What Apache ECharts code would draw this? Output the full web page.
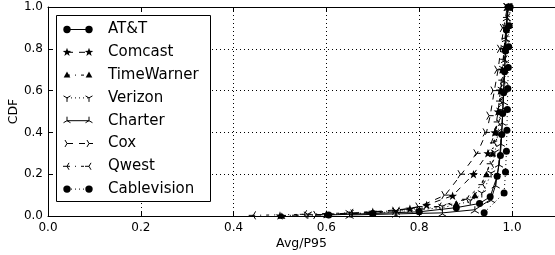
<!DOCTYPE html>
<html>
<head>
<meta charset="utf-8">
<script src="https://cdn.jsdelivr.net/npm/echarts@6/dist/echarts.min.js"></script>
<style>
html, body { margin: 0; padding: 0; background: #fff; }
#main { width: 555px; height: 255px; }
</style>
</head>
<body>
<div id="main"></div>
<script>
// series names (legend order)
var names = ["AT&T", "Comcast", "TimeWarner", "Verizon", "Charter", "Cox", "Qwest", "Cablevision"];

// Avg/P95 values (x) and CDF values (y)
var attX = [0.605, 0.70, 0.80, 0.88, 0.93, 0.953, 0.968, 0.975, 0.978, 0.980, 0.982, 0.984, 0.986, 0.988, 0.992];
var attY = [0.005, 0.012, 0.02, 0.04, 0.06, 0.092, 0.19, 0.29, 0.39, 0.49, 0.59, 0.69, 0.79, 0.89, 1.0];

var comcastX = [0.50, 0.60, 0.70, 0.78, 0.816, 0.872, 0.917, 0.948, 0.963, 0.970, 0.975, 0.979, 0.983, 0.987, 0.992];
var comcastY = [0.002, 0.008, 0.02, 0.035, 0.053, 0.097, 0.20, 0.30, 0.40, 0.50, 0.60, 0.70, 0.80, 0.90, 1.0];

var twX = [0.504, 0.60, 0.70, 0.80, 0.88, 0.92, 0.945, 0.958, 0.965, 0.972, 0.977, 0.980, 0.984, 0.988, 0.993];
var twY = [0.002, 0.008, 0.015, 0.03, 0.06, 0.10, 0.20, 0.30, 0.40, 0.50, 0.60, 0.70, 0.80, 0.90, 1.0];

var verizonX = [0.56, 0.65, 0.75, 0.85, 0.91, 0.935, 0.955, 0.963, 0.970, 0.975, 0.978, 0.981, 0.984, 0.987, 0.990];
var verizonY = [0.003, 0.01, 0.02, 0.04, 0.07, 0.105, 0.20, 0.30, 0.40, 0.50, 0.60, 0.70, 0.80, 0.90, 1.0];

var charterX = [0.65, 0.75, 0.85, 0.92, 0.955, 0.965, 0.972, 0.976, 0.979, 0.981, 0.983, 0.985, 0.987, 0.989, 0.992];
var charterY = [0.005, 0.01, 0.015, 0.03, 0.08, 0.15, 0.25, 0.35, 0.45, 0.55, 0.65, 0.75, 0.85, 0.95, 1.0];

var coxX = [0.58, 0.66, 0.75, 0.80, 0.856, 0.891, 0.925, 0.945, 0.953, 0.962, 0.970, 0.976, 0.982, 0.990];
var coxY = [0.005, 0.012, 0.025, 0.045, 0.10, 0.20, 0.30, 0.40, 0.48, 0.60, 0.70, 0.80, 0.90, 1.0];

var qwestX = [0.44, 0.55, 0.65, 0.75, 0.84, 0.90, 0.935, 0.953, 0.960, 0.968, 0.973, 0.978, 0.982, 0.985, 0.988, 0.993];
var qwestY = [0.003, 0.008, 0.015, 0.025, 0.045, 0.08, 0.15, 0.25, 0.35, 0.45, 0.55, 0.65, 0.75, 0.85, 0.95, 1.0];

var cableX = [0.94, 0.983, 0.986, 0.988, 0.989, 0.990, 0.991, 0.992, 0.993, 0.994, 0.996];
var cableY = [0.016, 0.11, 0.21, 0.31, 0.41, 0.51, 0.61, 0.71, 0.81, 0.91, 1.0];

var xTicks = [0.0, 0.2, 0.4, 0.6, 0.8, 1.0];
var yTicks = [0.0, 0.2, 0.4, 0.6, 0.8, 1.0];

// marker shapes (matplotlib style), coords in -1..1, y down
var starPts = [];
for (var k = 0; k < 10; k++) {
	var a = (-90 + k * 36) * Math.PI / 180, r = k % 2 ? 0.4 : 1;
	starPts.push([r * Math.cos(a), r * Math.sin(a)]);
}
var M_STAR = { poly: starPts };
var M_TRI = { poly: [[0, -1], [0.95, 0.7], [-0.95, 0.7]] };
var M_TDOWN = { arms: [[0, 1], [-0.866, -0.5], [0.866, -0.5]] };
var M_TUP = { arms: [[0, -1], [-0.866, 0.5], [0.866, 0.5]] };
var M_TRIGHT = { arms: [[1, 0], [-0.5, -0.866], [-0.5, 0.866]] };
var M_TLEFT = { arms: [[-1, 0], [0.5, -0.866], [0.5, 0.866]] };

function toPath(m) {
	if (m === "circle") return "circle";
	var f = function (p) { return (10 + 10 * p[0]).toFixed(2) + " " + (10 + 10 * p[1]).toFixed(2); };
	if (m.poly) {
		return "path://M" + m.poly.map(f).join(" L") + " Z";
	}
	return "path://" + m.arms.map(function (p) { return "M10 10 L" + f(p); }).join(" ");
}

var DASH = [6, 6], DASHDOT = [3, 5, 1, 5], DOT = [1, 3];

var styles = [
	{ x: attX, y: attY, mk: "circle", size: 7, dash: "solid" },
	{ x: comcastX, y: comcastY, mk: M_STAR, size: 9, dash: DASH },
	{ x: twX, y: twY, mk: M_TRI, size: 7, dash: DASHDOT },
	{ x: verizonX, y: verizonY, mk: M_TDOWN, size: 8, dash: DOT },
	{ x: charterX, y: charterY, mk: M_TUP, size: 8, dash: "solid" },
	{ x: coxX, y: coxY, mk: M_TRIGHT, size: 8, dash: DASH },
	{ x: qwestX, y: qwestY, mk: M_TLEFT, size: 8, dash: DASHDOT },
	{ x: cableX, y: cableY, mk: "circle", size: 7, dash: DOT }
];

var FONT = "DejaVu Sans";

var series = styles.map(function (s, i) {
	var isArms = s.mk !== "circle" && s.mk.arms;
	return {
		name: names[i],
		type: "line",
		data: s.x.map(function (v, k) { return [v, s.y[k]]; }),
		symbol: toPath(s.mk),
		symbolSize: s.size,
		symbolKeepAspect: true,
		showAllSymbol: true,
		lineStyle: { color: "#000", width: 1, type: s.dash },
		itemStyle: { color: "#000", borderColor: "#000", borderWidth: isArms ? 1 : 0 },
		emphasis: { disabled: true },
		z: 2
	};
});

// legend drawn like matplotlib: marker, line, marker, label
var legendEls = [{
	type: "rect",
	shape: { x: 56.5, y: 15.5, width: 154, height: 186 },
	style: { fill: "#fff", stroke: "#000", lineWidth: 1 },
	z: 10
}];
styles.forEach(function (s, i) {
	var cy = 29.5 + i * 22.8;
	var x1 = 67, x2 = 89;
	legendEls.push({
		type: "line",
		shape: { x1: x1, y1: cy, x2: x2, y2: cy },
		style: { stroke: "#000", lineWidth: 1, lineDash: s.dash === "solid" ? null : s.dash },
		z: 11
	});
	[x1, x2].forEach(function (mx) {
		var h = s.size / 2;
		if (s.mk === "circle") {
			legendEls.push({ type: "circle", shape: { cx: mx, cy: cy, r: 3.7 }, style: { fill: "#000" }, z: 12 });
		} else if (s.mk.poly) {
			legendEls.push({
				type: "polygon",
				shape: { points: s.mk.poly.map(function (p) { return [mx + h * p[0], cy + h * p[1]]; }) },
				style: { fill: "#000" },
				z: 12
			});
		} else {
			s.mk.arms.forEach(function (p) {
				legendEls.push({
					type: "line",
					shape: { x1: mx, y1: cy, x2: mx + h * p[0], y2: cy + h * p[1] },
					style: { stroke: "#000", lineWidth: 1 },
					z: 12
				});
			});
		}
	});
	legendEls.push({
		type: "text",
		style: { text: names[i], x: 108, y: cy, fill: "#000", font: "15px '" + FONT + "'", textVerticalAlign: "middle" },
		z: 12
	});
});

var axisLineStyle = { show: true, lineStyle: { color: "#000", width: 1 } };
var gridLine = { show: true, lineStyle: { color: "#000", width: 1, type: [1, 3] } };
var tickStyle = { show: true, inside: true, length: 4, lineStyle: { color: "#000" } };

var option = {
	animation: false,
	backgroundColor: "#fff",
	grid: { left: 48, right: 0, top: 7, bottom: 39, outerBoundsMode: "none", containLabel: false },
	xAxis: [{
		type: "value",
		min: xTicks[0],
		max: 1.0927,
		interval: 0.2,
		name: "Avg/P95",
		nameLocation: "middle",
		nameGap: 21,
		nameMoveOverlap: false,
		nameTextStyle: { color: "#000", fontFamily: FONT, fontSize: 12.5 },
		axisLine: axisLineStyle,
		axisTick: tickStyle,
		axisLabel: {
			color: "#000", fontFamily: FONT, fontSize: 12, margin: 6, showMaxLabel: false,
			formatter: function (v) { return xTicks.indexOf(Math.round(v * 10) / 10) >= 0 ? v.toFixed(1) : ""; }
		},
		splitLine: gridLine
	}, {
		type: "value",
		position: "top",
		min: xTicks[0],
		max: 1.0927,
		interval: 0.2,
		axisLine: axisLineStyle,
		axisTick: tickStyle,
		axisLabel: { show: false },
		splitLine: { show: false }
	}],
	yAxis: {
		type: "value",
		min: yTicks[0],
		max: yTicks[yTicks.length - 1],
		interval: 0.2,
		name: "CDF",
		nameLocation: "middle",
		nameGap: 28,
		nameMoveOverlap: false,
		nameTextStyle: { color: "#000", fontFamily: FONT, fontSize: 12.5 },
		axisLine: axisLineStyle,
		axisTick: tickStyle,
		axisLabel: {
			color: "#000", fontFamily: FONT, fontSize: 12, margin: 5,
			formatter: function (v) { return v.toFixed(1); }
		},
		splitLine: gridLine
	},
	series: series,
	graphic: { elements: legendEls }
};

var myChart = echarts.init(document.getElementById("main"));
myChart.setOption(option);
</script>
</body>
</html>
